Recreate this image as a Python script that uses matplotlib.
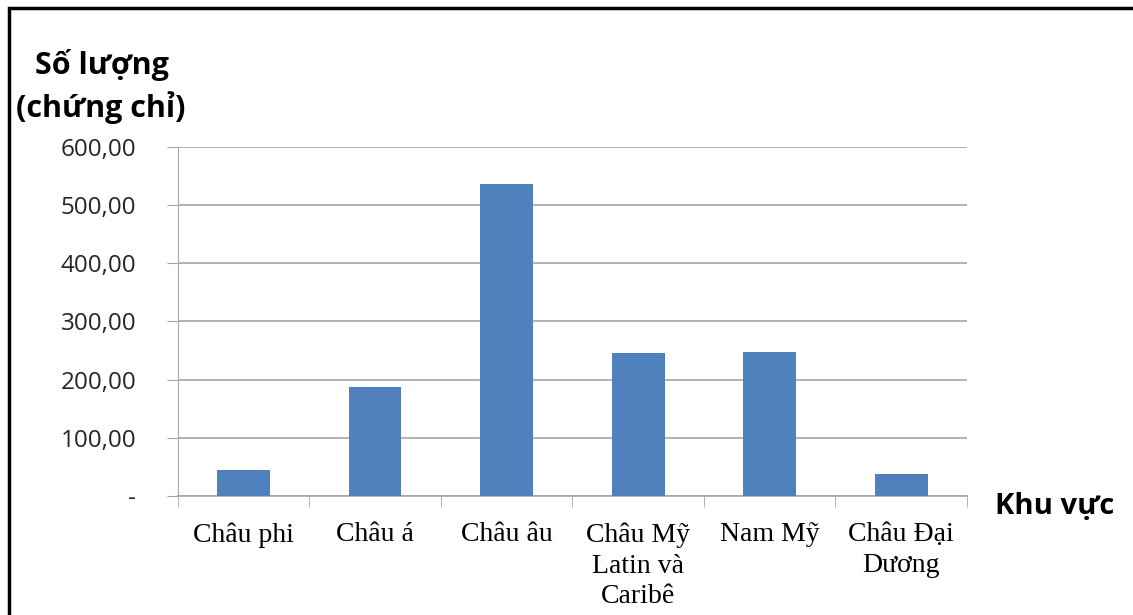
import matplotlib.pyplot as plt
from matplotlib.patches import Rectangle

categories = ["Châu phi", "Châu á", "Châu âu", "Châu Mỹ\nLatin và\nCaribê", "Nam Mỹ", "Châu Đại\nDương"]
values = [45, 188, 536, 246, 248, 38]
yticks = [0, 100, 200, 300, 400, 500, 600]
ytick_labels = ["-", "100,00", "200,00", "300,00", "400,00", "500,00", "600,00"]

fig = plt.figure(figsize=(11.33, 6.15), dpi=100)
ax = fig.add_axes([0.157, 0.1935, 0.6965, 0.5675])

x = range(len(categories))
ax.bar(x, values, width=0.4, color="#4f81bd", zorder=3)

ax.set_xlim(-0.5, len(categories) - 0.5)
ax.set_ylim(0, 600)
ax.set_yticks(yticks)
ax.set_yticklabels(ytick_labels, fontfamily="Open Sans", fontsize=17.5, color="#262626")
ax.set_xticks(list(x))
ax.set_xticklabels(categories, fontfamily="Liberation Serif", fontsize=20, linespacing=1.3)
ax.set_xticks([i - 0.5 for i in range(len(categories) + 1)], minor=True)
ax.tick_params(axis="x", which="major", length=0, pad=19)
ax.tick_params(axis="x", which="minor", length=8, color="#a6a6a6")
ax.tick_params(axis="y", length=8, color="#a6a6a6", pad=22)

ax.grid(axis="y", color="#a6a6a6", linewidth=1.2, zorder=0)
for side in ["top", "right"]:
    ax.spines[side].set_visible(False)
ax.spines["left"].set_color("#a6a6a6")
ax.spines["bottom"].set_color("#a6a6a6")
ax.spines["bottom"].set_linewidth(1.2)

fig.text(0.09, 0.895, "Số lượng", fontfamily="Open Sans", fontweight="bold", fontsize=22, ha="center", va="center")
fig.text(0.089, 0.825, "(chứng chỉ)", fontfamily="Open Sans", fontweight="bold", fontsize=22, ha="center", va="center")
fig.text(0.931, 0.176, "Khu vực", fontfamily="Open Sans", fontweight="bold", fontsize=21, ha="center", va="center")

fig.patches.append(Rectangle((0.008, -0.05), 1.1, 1.037, transform=fig.transFigure,
                             fill=False, edgecolor="black", linewidth=2.5))

fig.savefig("out.png", dpi=100)
